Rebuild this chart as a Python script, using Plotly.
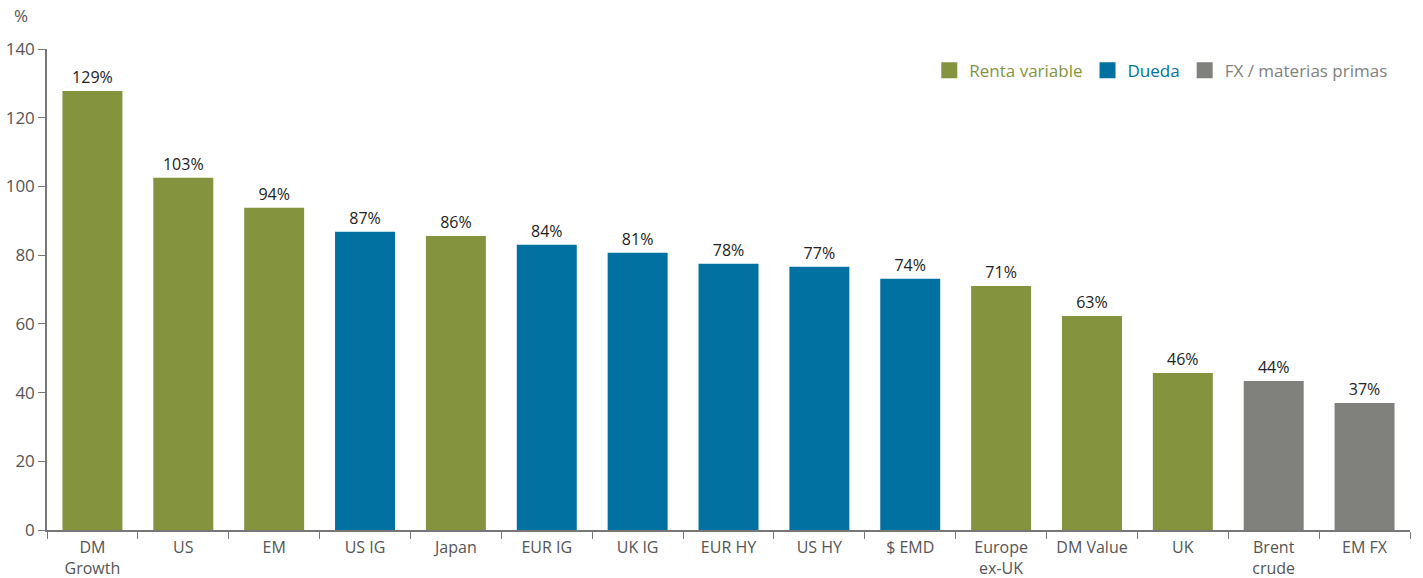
import plotly.graph_objects as go

categories = ["DM<br>Growth", "US", "EM", "US IG", "Japan", "EUR IG", "UK IG", "EUR HY",
              "US HY", "$ EMD", "Europe<br>ex-UK", "DM Value", "UK", "Brent<br>crude", "EM FX"]
values = [127.8, 102.5, 93.8, 86.8, 85.6, 83.0, 80.7, 77.5, 76.6, 73.1, 71.0, 62.3, 45.7, 43.4, 37.0]
labels = ["129%", "103%", "94%", "87%", "86%", "84%", "81%", "78%", "77%", "74%", "71%", "63%", "46%", "44%", "37%"]
groups = ["eq", "eq", "eq", "debt", "eq", "debt", "debt", "debt", "debt", "debt", "eq", "eq", "eq", "fx", "fx"]

series = [("eq", "Renta variable", "#84943E"),
          ("debt", "Dueda", "#0071A1"),
          ("fx", "FX / materias primas", "#80817C")]

fig = go.Figure()
for key, name, color in series:
    idx = [i for i, g in enumerate(groups) if g == key]
    fig.add_trace(go.Bar(
        x=[categories[i] for i in idx],
        y=[values[i] for i in idx],
        text=[labels[i] for i in idx],
        textposition="outside",
        textfont=dict(size=16, color="#222222"),
        cliponaxis=False,
        marker=dict(color=color, line=dict(width=0)),
        name=name,
        showlegend=False,
        hoverinfo="x+y",
    ))
# legend entries with larger square swatches
for key, name, color in series:
    fig.add_trace(go.Scatter(
        x=[None], y=[None], mode="markers",
        marker=dict(symbol="square", size=16, color=color),
        name=f'<span style="color:{color}">{name}</span>',
        showlegend=True,
    ))

fig.update_layout(
    width=1423, height=578,
    margin=dict(l=47, r=13, t=49, b=48, autoexpand=False),
    plot_bgcolor="white", paper_bgcolor="white",
    font=dict(family="Open Sans, Lato, sans-serif", size=16, color="#555555"),
    barmode="overlay",
    bargap=0.34,
    showlegend=True,
    legend=dict(orientation="h", x=0.987, xanchor="right", y=0.955, yanchor="middle",
                font=dict(size=17), itemwidth=30, traceorder="normal",
                bgcolor="rgba(0,0,0,0)"),
    annotations=[dict(text="%", x=0, xref="paper", xanchor="left", xshift=-35,
                      y=1, yref="paper", yshift=34, yanchor="middle", showarrow=False,
                      font=dict(size=17, color="#555555"))],
)
fig.update_xaxes(
    categoryorder="array", categoryarray=categories,
    showline=True, linecolor="#777777", linewidth=1.5,
    ticks="outside", tickson="boundaries", ticklen=7, tickcolor="#777777",
    showgrid=False, tickfont=dict(size=16, color="#555555"),
    range=[-0.5, 14.5], automargin=False, ticklabelstandoff=2,
)
fig.update_yaxes(
    range=[0, 140], dtick=20,
    showline=True, linecolor="#777777", linewidth=1.5,
    ticks="outside", ticklen=7, tickcolor="#777777",
    showgrid=False, zeroline=False, tickfont=dict(size=17, color="#555555"),
    automargin=False,
)

fig.write_html("out.html", config={"displayModeBar": False},
               post_script="document.body.style.margin='0';document.body.style.overflow='hidden';")
